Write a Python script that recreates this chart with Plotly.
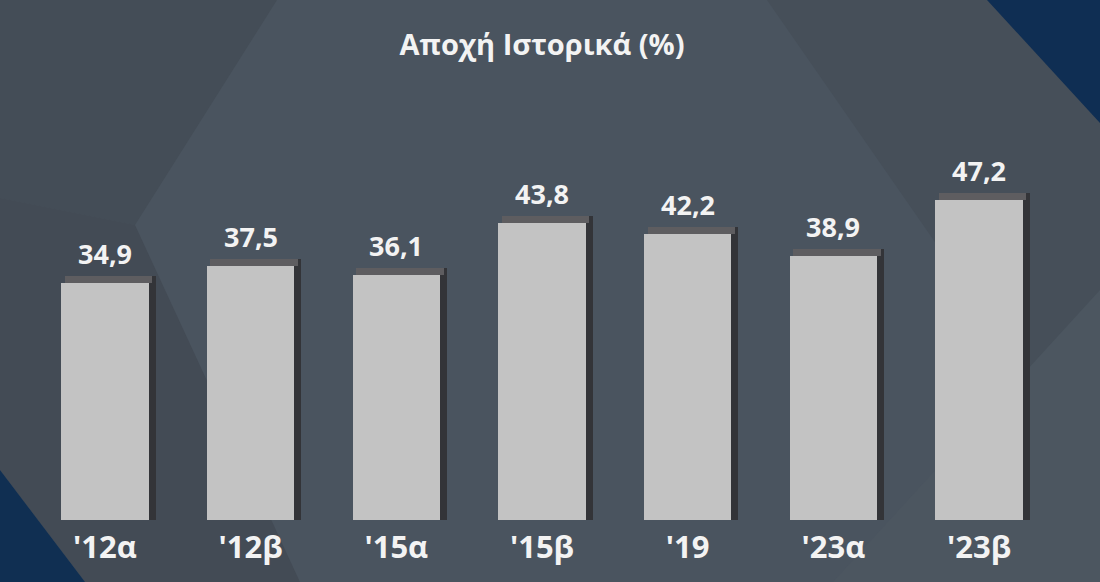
import plotly.graph_objects as go

categories = ["'12α", "'12β", "'15α", "'15β", "'19", "'23α", "'23β"]
values = [34.9, 37.5, 36.1, 43.8, 42.2, 38.9, 47.2]
value_labels = ["34,9", "37,5", "36,1", "43,8", "42,2", "38,9", "47,2"]
title_text = "Αποχή Ιστορικά (%)"

W, H = 1100, 582
ML, MR, MT, MB = 32, 48, 113, 62
PW, PH = W - ML - MR, H - MT - MB


def px2paper(x, y):
    return (x - ML) / PW, (H - MB - y) / PH


def poly(points, color):
    pts = [px2paper(x, y) for x, y in points]
    d = "M " + " L ".join(f"{a:.4f},{b:.4f}" for a, b in pts) + " Z"
    return dict(type="path", path=d, xref="paper", yref="paper",
                fillcolor=color, line=dict(width=0), layer="below")


bar_w = 0.6
sh = 0.048          # shadow thickness in category units
sh_y = 1.0          # top shadow thickness in value units

fig = go.Figure()

# right-side shadow
fig.add_trace(go.Bar(
    x=categories, y=[v + sh_y for v in values],
    width=sh, offset=bar_w / 2,
    marker=dict(color="#333438", line=dict(width=0)),
    hoverinfo="skip", showlegend=False))
# top shadow
fig.add_trace(go.Bar(
    x=categories, y=[sh_y] * len(values), base=values,
    width=bar_w, offset=-bar_w / 2 + sh / 2,
    marker=dict(color="#5e5d60", line=dict(width=0)),
    hoverinfo="skip", showlegend=False))
# main bars
fig.add_trace(go.Bar(
    x=categories, y=values,
    width=bar_w, offset=-bar_w / 2,
    marker=dict(color="#c3c3c3", line=dict(width=0)),
    hoverinfo="skip", showlegend=False))

annotations = []
for c, v, t in zip(categories, values, value_labels):
    annotations.append(dict(
        x=c, y=v + sh_y, text=f"<b>{t}</b>", showarrow=False,
        yanchor="bottom", yshift=2,
        font=dict(family="Open Sans", size=27, color="#f3f3f3")))

shapes = [
    # darker upper-left region
    poly([(0, 0), (277, 0), (135, 225), (0, 198)], "#444d57"),
    # darker lower-left wedge
    poly([(0, 198), (135, 225), (300, 582), (85, 582), (0, 470)], "#434b55"),
    # darker right region
    poly([(767, 0), (1100, 0), (1100, 480)], "#464f59"),
    # lighter lower-right band
    poly([(833, 582), (1100, 290), (1100, 582)], "#4c5660"),
    # navy top-right corner
    poly([(987, 0), (1100, 0), (1100, 123)], "#0f2e53"),
    # navy bottom-left corner
    poly([(0, 470), (85, 582), (0, 582)], "#102f52"),
]

fig.update_layout(
    width=W, height=H,
    margin=dict(l=ML, r=MR, t=MT, b=MB),
    paper_bgcolor="#4a545f",
    plot_bgcolor="rgba(0,0,0,0)",
    barmode="overlay",
    bargap=0,
    showlegend=False,
    title=dict(text=f"<b>{title_text}</b>", x=0.5, xanchor="center",
               xref="paper", y=1 - 45 / H, yanchor="middle",
               font=dict(family="Open Sans", size=29, color="#f3f3f3")),
    xaxis=dict(showgrid=False, zeroline=False, showline=False, ticks="",
               tickfont=dict(family="Open Sans", size=31, color="#f3f3f3", weight="bold"),
               ticklabelstandoff=6, fixedrange=True),
    yaxis=dict(range=[0, 60], visible=False, showgrid=False, zeroline=False,
               fixedrange=True),
    annotations=annotations,
    shapes=shapes,
)

fig.write_html("out.html", config={"displayModeBar": False},
               post_script="document.body.style.margin='0';")
